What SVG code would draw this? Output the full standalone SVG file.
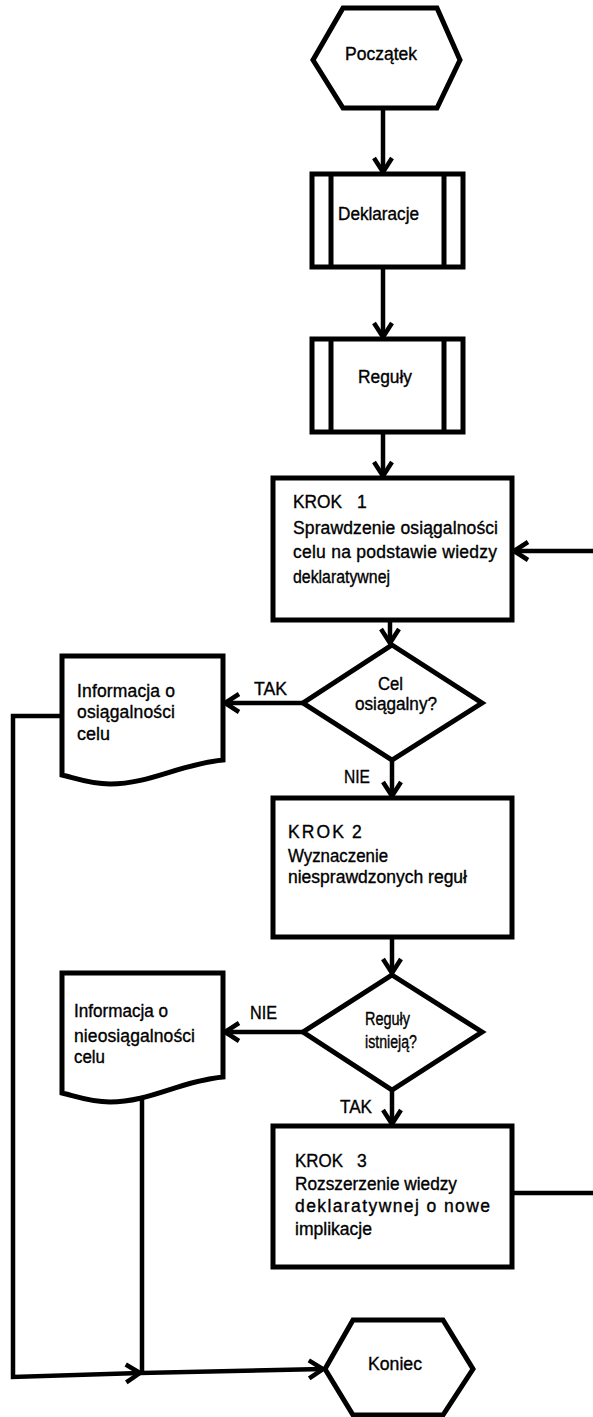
<svg xmlns="http://www.w3.org/2000/svg" width="593" height="1417" viewBox="0 0 593 1417">
  <style>
    .shape { fill: #ffffff; stroke: #000000; stroke-width: 5; stroke-linejoin: miter; }
    .bar { fill: none; stroke: #000000; stroke-width: 5; }
    .edge { fill: none; stroke: #000000; stroke-width: 4.5; stroke-linejoin: miter; }
    .t { font-family: "Liberation Sans", Arial, sans-serif; font-size: 17.5px; fill: #000000; stroke: #000000; stroke-width: 0.35px; }
  </style>
  <defs>
    <marker id="arrow" markerUnits="userSpaceOnUse" markerWidth="40" markerHeight="40" viewBox="-20 -20 40 40" refX="0" refY="0" orient="auto" overflow="visible">
      <path d="M-14,-9 L0,0 L-14,9" fill="none" stroke="#000000" stroke-width="4.5" stroke-linejoin="miter"/>
    </marker>
  </defs>

  <rect width="593" height="1417" fill="#ffffff"/>

  <!-- connectors -->
  <g id="connectors">
    <path class="edge" d="M383,108 L383,172" marker-end="url(#arrow)"/>
    <path class="edge" d="M383,267 L383,337" marker-end="url(#arrow)"/>
    <path class="edge" d="M383,432 L383,476" marker-end="url(#arrow)"/>
    <path class="edge" d="M390,620 L390,643" marker-end="url(#arrow)"/>
    <path class="edge" d="M303,703 L225,703" marker-end="url(#arrow)"/>
    <path class="edge" d="M392,760 L392,796" marker-end="url(#arrow)"/>
    <path class="edge" d="M392,937 L392,973" marker-end="url(#arrow)"/>
    <path class="edge" d="M303,1032 L225,1032" marker-end="url(#arrow)"/>
    <path class="edge" d="M392,1090 L392,1124" marker-end="url(#arrow)"/>
    <path class="edge" d="M512,1193 L600,1193 L600,551 L514,551" marker-end="url(#arrow)"/>
    <path class="edge" d="M62,716 L13,716 L13,1377 L140,1373" marker-end="url(#arrow)"/>
    <path class="edge" d="M142,1100 L142,1373 L323,1369" marker-end="url(#arrow)"/>
    <text class="t" x="254" y="695" textLength="33" lengthAdjust="spacingAndGlyphs">TAK</text>
    <text class="t" x="344" y="783" textLength="26" lengthAdjust="spacingAndGlyphs">NIE</text>
    <text class="t" x="250" y="1019" textLength="27" lengthAdjust="spacingAndGlyphs">NIE</text>
    <text class="t" x="340" y="1113" textLength="32" lengthAdjust="spacingAndGlyphs">TAK</text>
  </g>

  <!-- start terminal -->
  <g id="start">
    <polygon class="shape" points="343,8 437,8 460,60 437,108 343,108 313,60"/>
    <text class="t" x="345" y="60" textLength="72" lengthAdjust="spacingAndGlyphs">Początek</text>
  </g>

  <!-- predefined process: declarations -->
  <g id="declarations">
    <rect class="shape" x="312" y="174" width="151" height="93"/>
    <line class="bar" x1="331" y1="174" x2="331" y2="267"/>
    <line class="bar" x1="444" y1="174" x2="444" y2="267"/>
    <text class="t" x="338" y="220" textLength="81" lengthAdjust="spacingAndGlyphs">Deklaracje</text>
  </g>

  <!-- predefined process: rules -->
  <g id="rules">
    <rect class="shape" x="312" y="339" width="151" height="93"/>
    <line class="bar" x1="331" y1="339" x2="331" y2="432"/>
    <line class="bar" x1="444" y1="339" x2="444" y2="432"/>
    <text class="t" x="358" y="383" textLength="54" lengthAdjust="spacingAndGlyphs">Reguły</text>
  </g>

  <!-- step 1 -->
  <g id="step1">
    <rect class="shape" x="273" y="478" width="239" height="142"/>
    <text class="t" x="293" y="508" textLength="49" lengthAdjust="spacingAndGlyphs">KROK</text>
    <text class="t" x="357" y="508">1</text>
    <text class="t" x="293" y="534" textLength="205" lengthAdjust="spacing">Sprawdzenie osiągalności</text>
    <text class="t" x="293" y="558" textLength="204" lengthAdjust="spacing">celu na podstawie wiedzy</text>
    <text class="t" x="293" y="583" textLength="97" lengthAdjust="spacingAndGlyphs">deklaratywnej</text>
  </g>

  <!-- decision: goal reachable -->
  <g id="decision1">
    <polygon class="shape" points="392,645 482,703 392,760 303,703"/>
    <text class="t" x="378" y="690" textLength="25" lengthAdjust="spacingAndGlyphs">Cel</text>
    <text class="t" x="355" y="710" textLength="82" lengthAdjust="spacingAndGlyphs">osiągalny?</text>
  </g>

  <!-- document: goal reachable -->
  <g id="doc-reachable">
    <path class="shape" d="M62,656 L223,656 L223,760 C180,764 150,784 110,784 C90,784 75,778 62,775 Z"/>
    <text class="t" x="77" y="697" textLength="98" lengthAdjust="spacing">Informacja o</text>
    <text class="t" x="77" y="718" textLength="98" lengthAdjust="spacing">osiągalności</text>
    <text class="t" x="77" y="740" textLength="33" lengthAdjust="spacingAndGlyphs">celu</text>
  </g>

  <!-- step 2 -->
  <g id="step2">
    <rect class="shape" x="273" y="798" width="239" height="139"/>
    <text class="t" x="288" y="838" textLength="56" lengthAdjust="spacing">KROK</text>
    <text class="t" x="352" y="838">2</text>
    <text class="t" x="288" y="862" textLength="100" lengthAdjust="spacingAndGlyphs">Wyznaczenie</text>
    <text class="t" x="288" y="883" textLength="179" lengthAdjust="spacingAndGlyphs">niesprawdzonych reguł</text>
  </g>

  <!-- decision: rules exist -->
  <g id="decision2">
    <polygon class="shape" points="392,975 482,1032 392,1090 303,1032"/>
    <text class="t" x="365" y="1025" textLength="45" lengthAdjust="spacingAndGlyphs">Reguły</text>
    <text class="t" x="365" y="1048" textLength="52" lengthAdjust="spacingAndGlyphs">istnieją?</text>
  </g>

  <!-- document: goal unreachable -->
  <g id="doc-unreachable">
    <path class="shape" d="M62,973 L223,973 L223,1077 C180,1081 150,1102 110,1102 C90,1102 75,1096 62,1093 Z"/>
    <text class="t" x="74" y="1017" textLength="94" lengthAdjust="spacingAndGlyphs">Informacja o</text>
    <text class="t" x="74" y="1042" textLength="121" lengthAdjust="spacing">nieosiągalności</text>
    <text class="t" x="74" y="1063" textLength="31" lengthAdjust="spacingAndGlyphs">celu</text>
  </g>

  <!-- step 3 -->
  <g id="step3">
    <rect class="shape" x="273" y="1126" width="239" height="141"/>
    <text class="t" x="295" y="1167" textLength="48" lengthAdjust="spacingAndGlyphs">KROK</text>
    <text class="t" x="357" y="1167">3</text>
    <text class="t" x="295" y="1190" textLength="162" lengthAdjust="spacingAndGlyphs">Rozszerzenie wiedzy</text>
    <text class="t" x="295" y="1212" textLength="195" lengthAdjust="spacing">deklaratywnej o nowe</text>
    <text class="t" x="295" y="1235" textLength="77" lengthAdjust="spacingAndGlyphs">implikacje</text>
  </g>

  <!-- end terminal -->
  <g id="end">
    <polygon class="shape" points="353,1320 443,1320 473,1369 443,1415 353,1415 325,1369"/>
    <text class="t" x="368" y="1370" textLength="54" lengthAdjust="spacingAndGlyphs">Koniec</text>
  </g>
</svg>
